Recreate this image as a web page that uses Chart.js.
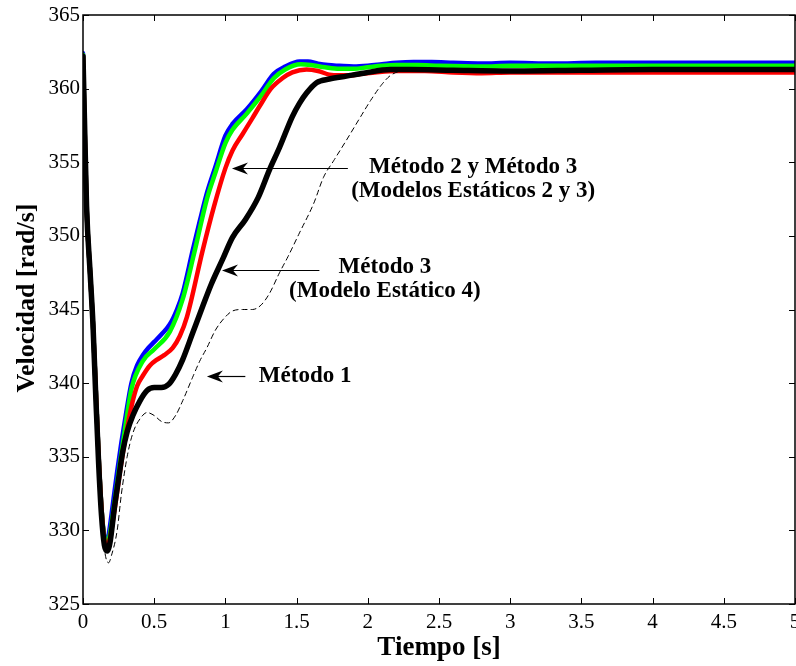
<!DOCTYPE html>
<html>
<head>
<meta charset="utf-8">
<script src="https://cdn.jsdelivr.net/npm/chart.js@4.4.1/dist/chart.umd.min.js"></script>
<style>
    html, body { margin: 0; padding: 0; background: #fff; }
    #chart { display: block; }
</style>
</head>
<body>
<canvas id="chart" width="796" height="666"></canvas>
<script>
// Velocidad [rad/s] vs Tiempo [s]

// Método 2 y Método 3 (modelos estáticos 2 y 3) - azul
const blueT = [0, 0.01, 0.025, 0.05, 0.07, 0.09, 0.11, 0.13, 0.15, 0.165, 0.18, 0.21, 0.24, 0.27, 0.3, 0.34, 0.38, 0.42, 0.46, 0.5, 0.55, 0.61, 0.66, 0.7, 0.77, 0.82, 0.87, 0.93, 1.0, 1.05, 1.15, 1.25, 1.34, 1.42, 1.52, 1.58, 1.65, 1.72, 1.8, 1.9, 2.0, 2.1, 2.2, 2.32, 2.45, 2.6, 2.8, 3.0, 3.3, 3.6, 4.0, 4.5, 5.0];
const blueV = [362.4, 358, 352, 347.5, 344, 339.5, 335, 331.5, 329.5, 329.2, 329.7, 331.8, 334.0, 336.0, 337.8, 340.0, 341.2, 341.9, 342.4, 342.8, 343.3, 344.0, 345.0, 346.1, 349.0, 351.0, 352.9, 354.7, 356.8, 357.6, 358.6, 359.8, 361.0, 361.5, 361.85, 361.85, 361.7, 361.6, 361.55, 361.5, 361.55, 361.65, 361.75, 361.8, 361.8, 361.75, 361.7, 361.75, 361.7, 361.75, 361.75, 361.75, 361.75];

// verde
const greenT = [0, 0.01, 0.025, 0.05, 0.07, 0.09, 0.11, 0.13, 0.15, 0.17, 0.19, 0.22, 0.26, 0.3, 0.34, 0.42, 0.5, 0.61, 0.7, 0.78, 0.87, 0.93, 1.0, 1.05, 1.15, 1.25, 1.34, 1.42, 1.53, 1.6, 1.7, 1.8, 1.9, 2.0, 2.1, 2.2, 2.35, 2.5, 2.8, 3.0, 3.5, 4.0, 4.5, 5.0];
const greenV = [362.3, 358, 352, 347.5, 344, 339.5, 335, 331.5, 329.5, 329.0, 329.8, 331.8, 334.6, 337.2, 339.6, 341.5, 342.3, 343.5, 345.7, 348.8, 352.5, 354.3, 356.3, 357.2, 358.3, 359.5, 360.7, 361.3, 361.65, 361.6, 361.45, 361.35, 361.35, 361.45, 361.55, 361.6, 361.6, 361.55, 361.5, 361.55, 361.55, 361.55, 361.55, 361.55];

// rojo
const redT = [0, 0.01, 0.025, 0.05, 0.07, 0.09, 0.11, 0.13, 0.15, 0.17, 0.19, 0.22, 0.26, 0.3, 0.34, 0.38, 0.42, 0.47, 0.52, 0.57, 0.63, 0.68, 0.73, 0.84, 0.92, 1.0, 1.05, 1.12, 1.19, 1.24, 1.32, 1.4, 1.47, 1.57, 1.65, 1.73, 1.8, 1.88, 1.95, 2.05, 2.2, 2.4, 2.6, 2.8, 3.0, 3.3, 3.6, 4.0, 4.5, 5.0];
const redV = [362.2, 358, 352, 347.5, 344, 339.5, 335, 331.5, 329.3, 328.9, 329.5, 331.3, 334.0, 336.4, 338.4, 339.8, 340.5, 341.2, 341.6, 341.9, 342.4, 343.2, 344.5, 349.0, 352.0, 354.6, 355.8, 356.9, 358.0, 358.8, 360.0, 360.7, 361.1, 361.3, 361.2, 360.95, 360.9, 360.9, 361.0, 361.1, 361.2, 361.2, 361.1, 361.05, 361.1, 361.1, 361.1, 361.1, 361.1, 361.1];

// Método 3 (Modelo Estático 4) - negro grueso
const blackT = [0, 0.01, 0.025, 0.05, 0.07, 0.09, 0.11, 0.13, 0.15, 0.17, 0.19, 0.22, 0.25, 0.28, 0.31, 0.35, 0.4, 0.45, 0.5, 0.55, 0.6, 0.65, 0.7, 0.77, 0.84, 0.9, 0.98, 1.05, 1.14, 1.23, 1.31, 1.38, 1.47, 1.52, 1.57, 1.64, 1.73, 1.85, 1.97, 2.16, 2.3, 2.6, 3.0, 3.5, 4.0, 4.5, 5.0];
const blackV = [362.2, 358, 352, 347.5, 344, 339, 334.5, 331, 329, 328.6, 329.2, 331.5, 333.5, 335.4, 336.7, 337.8, 338.8, 339.5, 339.7, 339.7, 339.9, 340.6, 341.6, 343.4, 345.2, 346.7, 348.4, 349.9, 351.1, 352.6, 354.5, 356.0, 358.1, 359.0, 359.7, 360.4, 360.65, 360.85, 361.05, 361.3, 361.3, 361.25, 361.2, 361.25, 361.3, 361.3, 361.3];

// Método 1 - negro discontinuo
const dashT = [0, 0.01, 0.03, 0.05, 0.07, 0.09, 0.11, 0.13, 0.15, 0.18, 0.2, 0.24, 0.27, 0.31, 0.35, 0.41, 0.45, 0.5, 0.55, 0.6, 0.65, 0.7, 0.77, 0.82, 0.87, 0.93, 1.0, 1.05, 1.12, 1.19, 1.25, 1.31, 1.38, 1.44, 1.52, 1.62, 1.69, 1.76, 1.85, 1.95, 2.02, 2.1, 2.16, 2.25, 2.4, 3.0, 3.5, 4.0, 4.5, 5.0];
const dashV = [362, 358, 352, 347.5, 344.5, 340, 335.5, 331.5, 328.8, 327.8, 328.3, 330.0, 332.5, 335.0, 336.6, 337.7, 338.0, 337.8, 337.4, 337.3, 337.8, 338.8, 340.4, 341.5, 342.4, 343.6, 344.5, 344.9, 345.0, 345.0, 345.3, 346.1, 347.5, 348.6, 350.2, 352.2, 354.0, 355.1, 356.5, 358.1, 359.2, 360.3, 360.9, 361.2, 361.2, 361.2, 361.25, 361.3, 361.3, 361.3];

const xTicks = [0, 0.5, 1, 1.5, 2, 2.5, 3, 3.5, 4, 4.5, 5];
const yTicks = [325, 330, 335, 340, 345, 350, 355, 360, 365];

// annotations: text lines, text centre/baseline (data), arrow start / tip (data)
const notes = [
    { lines: ['Método 2 y Método 3', '(Modelos Estáticos 2 y 3)'], at: [2.74, 354.27], from: [1.86, 354.6], to: [1.046, 354.6] },
    { lines: ['Método 3', '(Modelo Estático 4)'], at: [2.12, 347.5], from: [1.66, 347.68], to: [0.976, 347.68] },
    { lines: ['Método 1'], at: [1.56, 340.07], from: [1.14, 340.48], to: [0.87, 340.48] }
];

const SERIF = '"Liberation Serif", "Times New Roman", serif';

function toPoints(ts, vs) {
    return ts.map((t, i) => ({ x: t, y: vs[i] }));
}

// order: lower value is drawn on top
function line(data, color, width, order, dash) {
    return {
        data: data,
        order: order,
        borderColor: color,
        borderWidth: width,
        borderDash: dash || [],
        pointRadius: 0,
        fill: false,
        cubicInterpolationMode: 'monotone',
        borderCapStyle: 'round',
        borderJoinStyle: 'round'
    };
}

function drawArrow(ctx, x1, y, x2) {
    ctx.beginPath();
    ctx.moveTo(x1, y);
    ctx.lineTo(x2 + 8, y);
    ctx.lineWidth = 1.2;
    ctx.strokeStyle = '#000';
    ctx.stroke();
    ctx.beginPath();
    ctx.moveTo(x2, y);
    ctx.lineTo(x2 + 16, y - 6);
    ctx.lineTo(x2 + 11, y);
    ctx.lineTo(x2 + 16, y + 6);
    ctx.closePath();
    ctx.fillStyle = '#000';
    ctx.fill();
}

const framePlugin = {
    id: 'frame',
    afterDraw(chart) {
        const { ctx, chartArea: a, scales } = chart;
        const sx = scales.x, sy = scales.y;
        ctx.save();
        // frame
        ctx.strokeStyle = '#000';
        ctx.lineWidth = 1.5;
        ctx.strokeRect(a.left, a.top, a.right - a.left, a.bottom - a.top);
        // inward ticks, all four sides
        ctx.lineWidth = 1;
        ctx.beginPath();
        xTicks.forEach(v => {
            const px = Math.round(sx.getPixelForValue(v)) + 0.5;
            ctx.moveTo(px, a.bottom); ctx.lineTo(px, a.bottom - 6);
            ctx.moveTo(px, a.top); ctx.lineTo(px, a.top + 6);
        });
        yTicks.forEach(v => {
            const py = Math.round(sy.getPixelForValue(v)) + 0.5;
            ctx.moveTo(a.left, py); ctx.lineTo(a.left + 6, py);
            ctx.moveTo(a.right, py); ctx.lineTo(a.right - 6, py);
        });
        ctx.stroke();

        // annotations
        ctx.fillStyle = '#000';
        ctx.font = 'bold 23px ' + SERIF;
        ctx.textAlign = 'center';
        ctx.textBaseline = 'alphabetic';
        notes.forEach(n => {
            const cx = sx.getPixelForValue(n.at[0]);
            const cy = sy.getPixelForValue(n.at[1]);
            n.lines.forEach((s, i) => ctx.fillText(s, cx, cy + i * 24));
            drawArrow(ctx, sx.getPixelForValue(n.from[0]), Math.round(sy.getPixelForValue(n.from[1])) + 0.5,
                sx.getPixelForValue(n.to[0]));
        });

        // axis titles
        ctx.font = 'bold 27px ' + SERIF;
        ctx.fillText('Tiempo [s]', (a.left + a.right) / 2, 655);
        ctx.save();
        ctx.translate(34, 298);
        ctx.rotate(-Math.PI / 2);
        ctx.font = 'bold 26px ' + SERIF;
        ctx.fillText('Velocidad [rad/s]', 0, 0);
        ctx.restore();
        ctx.restore();
    }
};

new Chart(document.getElementById('chart'), {
    type: 'line',
    data: {
        datasets: [
            line(toPoints(blueT, blueV), '#0000ff', 4.5, 5),
            line(toPoints(greenT, greenV), '#00ff00', 4.5, 4),
            line(toPoints(redT, redV), '#ff0000', 4.5, 3),
            line(toPoints(blackT, blackV), '#000000', 5.5, 2),
            line(toPoints(dashT, dashV), '#000000', 1, 1, [5, 4])
        ]
    },
    options: {
        responsive: false,
        animation: false,
        events: [],
        layout: { padding: { top: 15, right: 1, left: 0, bottom: 0 } },
        plugins: { legend: { display: false }, tooltip: { enabled: false } },
        scales: {
            x: {
                type: 'linear',
                min: 0,
                max: 5,
                afterBuildTicks: s => { s.ticks = xTicks.map(v => ({ value: v })); },
                ticks: {
                    color: '#000',
                    font: { family: SERIF, size: 21 },
                    padding: 6,
                    maxRotation: 0,
                    autoSkip: false,
                    callback: v => String(v)
                },
                grid: { display: false, drawTicks: false },
                border: { display: false },
                afterFit: s => { s.height = 62; s.paddingLeft = 0; s.paddingRight = 0; }
            },
            y: {
                min: 325,
                max: 365,
                afterBuildTicks: s => { s.ticks = yTicks.map(v => ({ value: v })); },
                ticks: {
                    color: '#000',
                    font: { family: SERIF, size: 21 },
                    padding: 3,
                    autoSkip: false
                },
                grid: { display: false, drawTicks: false },
                border: { display: false },
                afterFit: s => { s.width = 83; s.paddingTop = 0; s.paddingBottom = 0; }
            }
        }
    },
    plugins: [framePlugin]
});
</script>
</body>
</html>
